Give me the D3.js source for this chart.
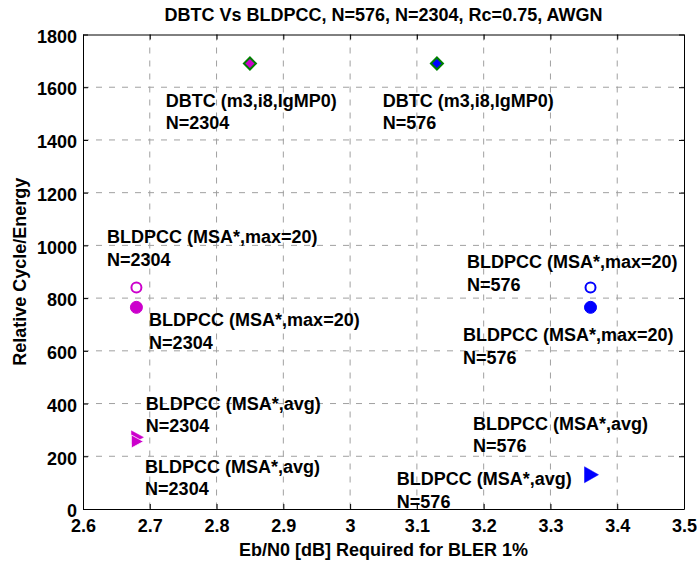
<!DOCTYPE html>
<html>
<head>
<meta charset="utf-8">
<script src="https://cdn.jsdelivr.net/npm/d3@7"></script>
<style>
  body { margin: 0; background: #fff; }
  text { font-family: "Liberation Sans", Arial, sans-serif; font-weight: bold; }
</style>
</head>
<body>
<svg id="chart" width="697" height="563"></svg>
<script>
// tick values
const xTicks = [2.6, 2.7, 2.8, 2.9, 3, 3.1, 3.2, 3.3, 3.4, 3.5];
const yTicks = [0, 200, 400, 600, 800, 1000, 1200, 1400, 1600, 1800];

// DBTC points (diamonds)
const dbtcX = [2.85, 3.13];
const dbtcY = [1690, 1690];
const dbtcFill = ["#cc00cc", "#0000ff"];

// BLDPCC max=20 (open = upper, filled = lower)
const maxX = [2.68, 2.68, 3.36, 3.36];
const maxY = [840, 765, 840, 765];
const maxColor = ["#cc00cc", "#cc00cc", "#0000ff", "#0000ff"];
const maxOpen = [true, false, true, false];

// BLDPCC avg (triangles)
const avgX = [2.68, 2.68, 3.36];
const avgY = [272, 256, 130];
const avgColor = ["#cc00cc", "#cc00cc", "#0000ff"];

// text annotations, placed in data units (first baseline)
const labelX = [2.724, 3.049, 2.636, 2.699, 2.694, 2.693, 3.175, 3.169, 3.184, 3.070];
const labelY = [1525, 1525, 1009, 694, 376, 137, 914, 637, 300, 91];
const labelLine1 = [
  "DBTC (m3,i8,IgMP0)", "DBTC (m3,i8,IgMP0)",
  "BLDPCC (MSA*,max=20)", "BLDPCC (MSA*,max=20)",
  "BLDPCC (MSA*,avg)", "BLDPCC (MSA*,avg)",
  "BLDPCC (MSA*,max=20)", "BLDPCC (MSA*,max=20)",
  "BLDPCC (MSA*,avg)", "BLDPCC (MSA*,avg)"
];
const labelLine2 = ["N=2304", "N=576", "N=2304", "N=2304", "N=2304", "N=2304", "N=576", "N=576", "N=576", "N=576"];

const margin = {top: 34.5, right: 13, bottom: 54, left: 83};
const width = 697 - margin.left - margin.right;
const height = 563 - margin.top - margin.bottom;

const svg = d3.select("#chart");
const g = svg.append("g").attr("transform", "translate(" + margin.left + "," + margin.top + ")");

const x = d3.scaleLinear().domain([2.6, 3.5]).range([0, width]);
const y = d3.scaleLinear().domain([0, 1800]).range([height, 0]);

// grid
g.append("g").selectAll("line")
  .data(xTicks.slice(1, -1))
  .enter().append("line")
  .attr("x1", d => x(d)).attr("x2", d => x(d))
  .attr("y1", 0).attr("y2", height)
  .attr("stroke", "#a0a0a0").attr("stroke-dasharray", "6,7").attr("stroke-width", 1);
g.append("g").selectAll("line")
  .data(yTicks.slice(1, -1))
  .enter().append("line")
  .attr("y1", d => y(d)).attr("y2", d => y(d))
  .attr("x1", 0).attr("x2", width)
  .attr("stroke", "#a0a0a0").attr("stroke-dasharray", "6,7").attr("stroke-width", 1);

// axes, ticks pointing inward
const xAxis = g.append("g")
  .attr("transform", "translate(0," + height + ")")
  .call(d3.axisBottom(x).tickValues(xTicks).tickFormat(d3.format("")).tickSizeInner(-5).tickSizeOuter(0).tickPadding(10));
const yAxis = g.append("g")
  .call(d3.axisLeft(y).tickValues(yTicks).tickFormat(d3.format("d")).tickSizeInner(-5).tickSizeOuter(0).tickPadding(6));
g.append("g")
  .call(d3.axisTop(x).tickValues(xTicks).tickFormat("").tickSizeInner(-5).tickSizeOuter(0));
g.append("g")
  .attr("transform", "translate(" + width + ",0)")
  .call(d3.axisRight(y).tickValues(yTicks).tickFormat("").tickSizeInner(-5).tickSizeOuter(0));

svg.selectAll(".domain").attr("stroke", "#000");
svg.selectAll(".tick line").attr("stroke", "#000");
g.selectAll(".tick text")
  .style("font-size", "18px")
  .style("font-family", "'Liberation Sans', Arial, sans-serif")
  .style("font-weight", "bold")
  .attr("fill", "#000");
yAxis.selectAll(".tick text").attr("y", 2);

// DBTC diamonds
g.selectAll(".dbtc")
  .data(dbtcX)
  .enter().append("path")
  .attr("class", "dbtc")
  .attr("transform", (d, i) => "translate(" + x(d) + "," + y(dbtcY[i]) + ")")
  .attr("d", "M0,-6 L6,0 L0,6 L-6,0 Z")
  .attr("fill", (d, i) => dbtcFill[i])
  .attr("stroke", "#008000").attr("stroke-width", 2);

// BLDPCC max=20 circles
g.selectAll(".maxpt")
  .data(maxX)
  .enter().append("circle")
  .attr("class", "maxpt")
  .attr("cx", d => x(d))
  .attr("cy", (d, i) => y(maxY[i]))
  .attr("r", (d, i) => maxOpen[i] ? 5 : 6)
  .attr("fill", (d, i) => maxOpen[i] ? "none" : maxColor[i])
  .attr("stroke", (d, i) => maxColor[i])
  .attr("stroke-width", (d, i) => maxOpen[i] ? 2 : 1);

// BLDPCC avg triangles
g.selectAll(".avgpt")
  .data(avgX)
  .enter().append("path")
  .attr("class", "avgpt")
  .attr("transform", (d, i) => "translate(" + x(d) + "," + y(avgY[i]) + ")")
  .attr("d", (d, i) => i === 2 ? "M-6,-8 L8,0 L-6,8 Z" : "M-5,-6.5 L7,0 L-5,6.5 Z")
  .attr("fill", (d, i) => avgColor[i])
  .attr("stroke", (d, i) => i === 1 ? "#fff" : avgColor[i])
  .attr("stroke-width", (d, i) => i === 1 ? 0.8 : 0.5);

// annotations
const ann = g.selectAll(".ann")
  .data(labelX)
  .enter().append("text")
  .attr("class", "ann")
  .attr("x", d => x(d))
  .attr("y", (d, i) => y(labelY[i]))
  .style("font-size", "18px")
  .attr("fill", "#000");
ann.append("tspan").text((d, i) => labelLine1[i]);
ann.append("tspan")
  .attr("x", d => x(d))
  .attr("dy", 22.5)
  .text((d, i) => labelLine2[i]);

// title
svg.append("text")
  .attr("x", margin.left + width / 2)
  .attr("y", 21)
  .attr("text-anchor", "middle")
  .style("font-size", "18px")
  .text("DBTC Vs BLDPCC, N=576, N=2304, Rc=0.75, AWGN");

// axis labels
svg.append("text")
  .attr("x", margin.left + width / 2)
  .attr("y", 556)
  .attr("text-anchor", "middle")
  .style("font-size", "18px")
  .text("Eb/N0 [dB] Required for BLER 1%");

svg.append("text")
  .attr("transform", "translate(26," + (margin.top + height / 2) + ") rotate(-90)")
  .attr("text-anchor", "middle")
  .style("font-size", "18px")
  .text("Relative Cycle/Energy");
</script>
</body>
</html>
